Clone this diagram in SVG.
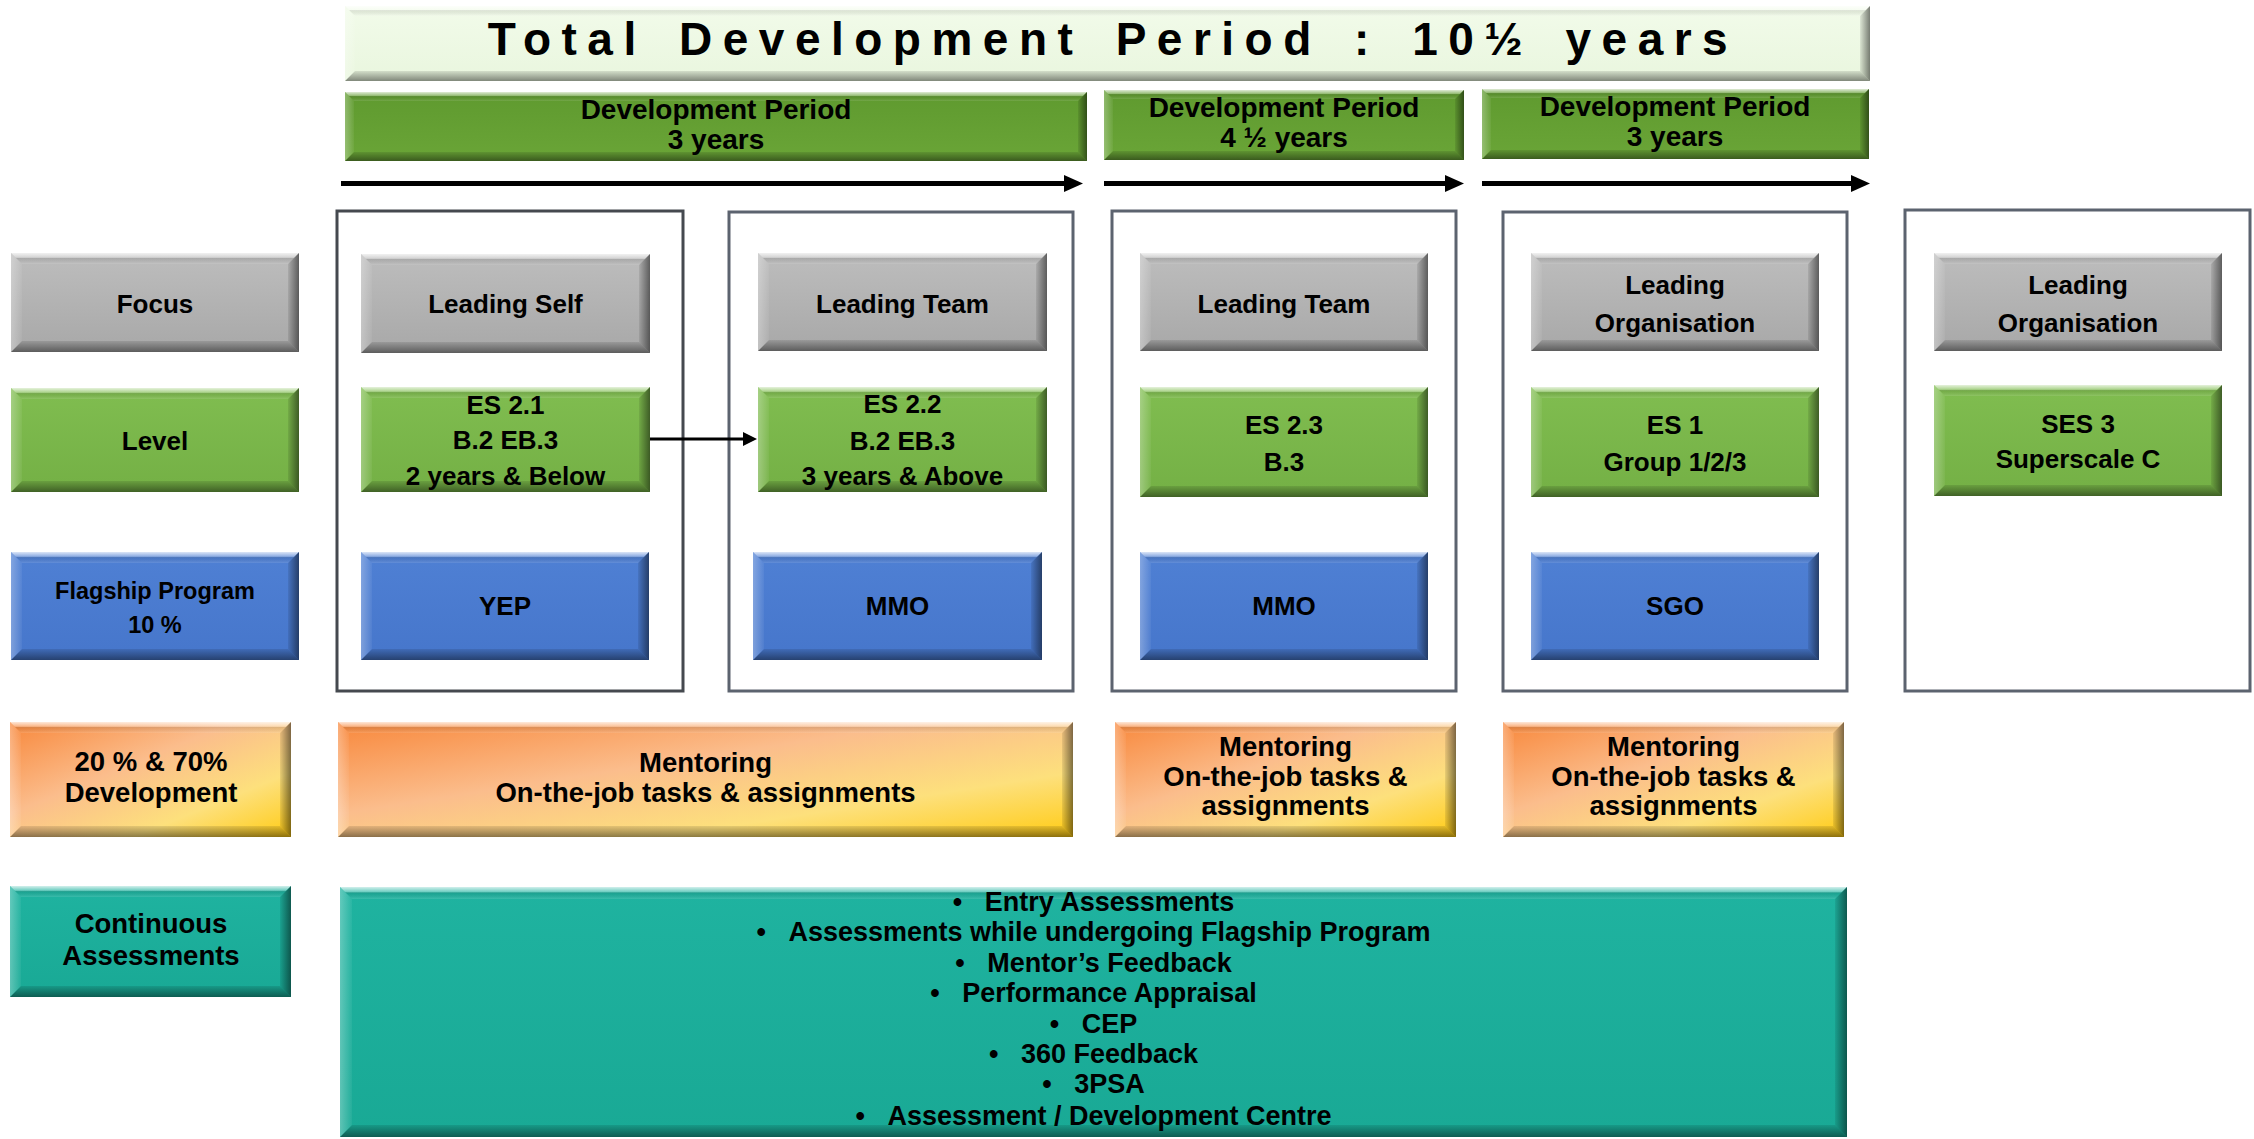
<svg xmlns="http://www.w3.org/2000/svg" width="2254" height="1139" viewBox="0 0 2254 1139">
<style>
.t{font-family:"Liberation Sans",Arial,sans-serif;font-weight:bold;fill:#000;text-anchor:middle}
.s26{font-size:26px}.s24{font-size:23.5px}.s27{font-size:27.5px}.s28{font-size:28px}.s25{font-size:26px}
.frame{fill:#fff;stroke:#5c636f;stroke-width:3}
.gray{fill:url(#gGray)}.green{fill:url(#gGreen)}.blue{fill:url(#gBlue)}.orange{fill:url(#gOrange)}.teal{fill:url(#gTeal)}
.period{fill:url(#gPeriod)}.pale{fill:url(#gPale)}
.bt{fill:url(#bTop)}.bb{fill:url(#bBot)}.bl{fill:url(#bLeft)}.br{fill:url(#bRight)}
.arr{stroke:#000;stroke-width:5;fill:none;marker-end:url(#ah)}
.arr2{stroke:#000;stroke-width:3;fill:none;marker-end:url(#ah2)}
</style>
<defs>
<linearGradient id="gGray" x1="0" y1="0" x2="0" y2="1"><stop offset="0" stop-color="#bdbdbd"/><stop offset="1" stop-color="#a8a8a8"/></linearGradient>
<linearGradient id="gGreen" x1="0" y1="0" x2="0" y2="1"><stop offset="0" stop-color="#80bd50"/><stop offset="1" stop-color="#74b045"/></linearGradient>
<linearGradient id="gBlue" x1="0" y1="0" x2="0" y2="1"><stop offset="0" stop-color="#4f80d4"/><stop offset="1" stop-color="#4676cb"/></linearGradient>
<linearGradient id="gTeal" x1="0" y1="0" x2="0" y2="1"><stop offset="0" stop-color="#1fb3a0"/><stop offset="1" stop-color="#19a995"/></linearGradient>
<linearGradient id="gPeriod" x1="0" y1="0" x2="0" y2="1"><stop offset="0" stop-color="#5f9a2f"/><stop offset="1" stop-color="#6aa537"/></linearGradient>
<linearGradient id="gPale" x1="0" y1="0" x2="0" y2="1"><stop offset="0" stop-color="#f2fbea"/><stop offset="1" stop-color="#e9f6de"/></linearGradient>
<linearGradient id="gOrange" x1="0" y1="0" x2="1" y2="1"><stop offset="0" stop-color="#f8883c"/><stop offset="0.4" stop-color="#fbbd8c"/><stop offset="0.72" stop-color="#fde07c"/><stop offset="1" stop-color="#ffcb14"/></linearGradient>
<linearGradient id="bTop" x1="0" y1="0" x2="0" y2="1"><stop offset="0" stop-color="#fff" stop-opacity="0.8"/><stop offset="0.4" stop-color="#fff" stop-opacity="0.35"/><stop offset="0.55" stop-color="#000" stop-opacity="0.08"/><stop offset="1" stop-color="#fff" stop-opacity="0.12"/></linearGradient>
<linearGradient id="bBot" x1="0" y1="0" x2="0" y2="1"><stop offset="0" stop-color="#000" stop-opacity="0.1"/><stop offset="1" stop-color="#000" stop-opacity="0.45"/></linearGradient>
<linearGradient id="bLeft" x1="0" y1="0" x2="1" y2="0"><stop offset="0" stop-color="#fff" stop-opacity="0.3"/><stop offset="1" stop-color="#fff" stop-opacity="0.05"/></linearGradient>
<linearGradient id="bRight" x1="0" y1="0" x2="1" y2="0"><stop offset="0" stop-color="#000" stop-opacity="0.08"/><stop offset="1" stop-color="#000" stop-opacity="0.5"/></linearGradient>
<marker id="ah" markerUnits="userSpaceOnUse" markerWidth="19" markerHeight="17" refX="1" refY="8.5" orient="auto" viewBox="0 0 19 17"><path d="M0,0 L19,8.5 L0,17z" fill="#000"/></marker>
<marker id="ah2" markerUnits="userSpaceOnUse" markerWidth="14" markerHeight="14" refX="1" refY="7" orient="auto" viewBox="0 0 14 14"><path d="M0,0 L14,7 L0,14z" fill="#000"/></marker>
</defs>
<rect width="2254" height="1139" fill="#fff"/>

<g id="frames">
<rect id="frame1" class="frame" x="337" y="211" width="346" height="480" style="stroke:#45494f"/>
<rect id="frame2" class="frame" x="729" y="212" width="344" height="479"/>
<rect id="frame3" class="frame" x="1112" y="211" width="344" height="480"/>
<rect id="frame4" class="frame" x="1503" y="212" width="344" height="479"/>
<rect id="frame5" class="frame" x="1905" y="210" width="345" height="481"/>
</g>

<g id="title">
<rect class="pale" x="345" y="6" width="1525" height="75"/>
<polygon class="bt" points="345,6 1870,6 1860,16 355,16"/>
<polygon class="bb" points="345,81 1870,81 1860,71 355,71"/>
<polygon class="bl" points="345,6 355,16 355,71 345,81"/>
<polygon class="br" points="1870,6 1860,16 1860,71 1870,81"/>
<text class="t" x="1113" y="55" style="font-size:46px;letter-spacing:10.5px;word-spacing:9px">Total Development Period : 10½ years</text>
</g>

<g id="period1">
<rect class="period" x="345" y="92" width="742" height="69"/>
<polygon class="bt" points="345,92 1087,92 1078,101 354,101"/>
<polygon class="bb" points="345,161 1087,161 1078,152 354,152"/>
<polygon class="bl" points="345,92 354,101 354,152 345,161"/>
<polygon class="br" points="1087,92 1078,101 1078,152 1087,161"/>
<text class="t s28" x="716" y="119">Development Period</text>
<text class="t s28" x="716" y="149">3 years</text>
</g>
<g id="period2">
<rect class="period" x="1104" y="90" width="360" height="70"/>
<polygon class="bt" points="1104,90 1464,90 1455,99 1113,99"/>
<polygon class="bb" points="1104,160 1464,160 1455,151 1113,151"/>
<polygon class="bl" points="1104,90 1113,99 1113,151 1104,160"/>
<polygon class="br" points="1464,90 1455,99 1455,151 1464,160"/>
<text class="t s28" x="1284" y="117">Development Period</text>
<text class="t s28" x="1284" y="147">4 ½ years</text>
</g>
<g id="period3">
<rect class="period" x="1482" y="89" width="387" height="70"/>
<polygon class="bt" points="1482,89 1869,89 1860,98 1491,98"/>
<polygon class="bb" points="1482,159 1869,159 1860,150 1491,150"/>
<polygon class="bl" points="1482,89 1491,98 1491,150 1482,159"/>
<polygon class="br" points="1869,89 1860,98 1860,150 1869,159"/>
<text class="t s28" x="1675" y="116">Development Period</text>
<text class="t s28" x="1675" y="146">3 years</text>
</g>

<g id="focus">
<rect class="gray" x="11" y="253" width="288" height="99"/>
<polygon class="bt" points="11,253 299,253 288,264 22,264"/>
<polygon class="bb" points="11,352 299,352 288,341 22,341"/>
<polygon class="bl" points="11,253 22,264 22,341 11,352"/>
<polygon class="br" points="299,253 288,264 288,341 299,352"/>
<text class="t s26" x="155" y="313">Focus</text>
</g>
<g id="level">
<rect class="green" x="11" y="388" width="288" height="104"/>
<polygon class="bt" points="11,388 299,388 288,399 22,399"/>
<polygon class="bb" points="11,492 299,492 288,481 22,481"/>
<polygon class="bl" points="11,388 22,399 22,481 11,492"/>
<polygon class="br" points="299,388 288,399 288,481 299,492"/>
<text class="t s26" x="155" y="450">Level</text>
</g>
<g id="flagship">
<rect class="blue" x="11" y="552" width="288" height="108"/>
<polygon class="bt" points="11,552 299,552 288,563 22,563"/>
<polygon class="bb" points="11,660 299,660 288,649 22,649"/>
<polygon class="bl" points="11,552 22,563 22,649 11,660"/>
<polygon class="br" points="299,552 288,563 288,649 299,660"/>
<text class="t s24" x="155" y="599">Flagship Program</text>
<text class="t s24" x="155" y="633">10 %</text>
</g>
<g id="development">
<rect class="orange" x="10" y="722" width="281" height="115"/>
<polygon class="bt" points="10,722 291,722 280,733 21,733"/>
<polygon class="bb" points="10,837 291,837 280,826 21,826"/>
<polygon class="bl" points="10,722 21,733 21,826 10,837"/>
<polygon class="br" points="291,722 280,733 280,826 291,837"/>
<text class="t s27" x="151" y="771">20 % &amp; 70%</text>
<text class="t s27" x="151" y="802">Development</text>
</g>
<g id="continuous">
<rect class="teal" x="10" y="886" width="281" height="111"/>
<polygon class="bt" points="10,886 291,886 280,897 21,897"/>
<polygon class="bb" points="10,997 291,997 280,986 21,986"/>
<polygon class="bl" points="10,886 21,897 21,986 10,997"/>
<polygon class="br" points="291,886 280,897 280,986 291,997"/>
<text class="t s27" x="151" y="933">Continuous</text>
<text class="t s27" x="151" y="965">Assessments</text>
</g>

<g id="leading-self">
<rect class="gray" x="361" y="254" width="289" height="99"/>
<polygon class="bt" points="361,254 650,254 639,265 372,265"/>
<polygon class="bb" points="361,353 650,353 639,342 372,342"/>
<polygon class="bl" points="361,254 372,265 372,342 361,353"/>
<polygon class="br" points="650,254 639,265 639,342 650,353"/>
<text class="t s26" x="505.5" y="313">Leading Self</text>
</g>
<g id="es21">
<rect class="green" x="361" y="387" width="289" height="105"/>
<polygon class="bt" points="361,387 650,387 639,398 372,398"/>
<polygon class="bb" points="361,492 650,492 639,481 372,481"/>
<polygon class="bl" points="361,387 372,398 372,481 361,492"/>
<polygon class="br" points="650,387 639,398 639,481 650,492"/>
<text class="t s25" x="505.5" y="414">ES 2.1</text>
<text class="t s25" x="505.5" y="449">B.2 EB.3</text>
<text class="t s25" x="505.5" y="485">2 years &amp; Below</text>
</g>
<g id="yep">
<rect class="blue" x="361" y="552" width="288" height="108"/>
<polygon class="bt" points="361,552 649,552 638,563 372,563"/>
<polygon class="bb" points="361,660 649,660 638,649 372,649"/>
<polygon class="bl" points="361,552 372,563 372,649 361,660"/>
<polygon class="br" points="649,552 638,563 638,649 649,660"/>
<text class="t s25" x="505" y="615">YEP</text>
</g>

<g id="leading-team-1">
<rect class="gray" x="758" y="253" width="289" height="98"/>
<polygon class="bt" points="758,253 1047,253 1036,264 769,264"/>
<polygon class="bb" points="758,351 1047,351 1036,340 769,340"/>
<polygon class="bl" points="758,253 769,264 769,340 758,351"/>
<polygon class="br" points="1047,253 1036,264 1036,340 1047,351"/>
<text class="t s26" x="902.5" y="313">Leading Team</text>
</g>
<g id="es22">
<rect class="green" x="758" y="387" width="289" height="105"/>
<polygon class="bt" points="758,387 1047,387 1036,398 769,398"/>
<polygon class="bb" points="758,492 1047,492 1036,481 769,481"/>
<polygon class="bl" points="758,387 769,398 769,481 758,492"/>
<polygon class="br" points="1047,387 1036,398 1036,481 1047,492"/>
<text class="t s25" x="902.5" y="413">ES 2.2</text>
<text class="t s25" x="902.5" y="450">B.2 EB.3</text>
<text class="t s25" x="902.5" y="485">3 years &amp; Above</text>
</g>
<g id="mmo-1">
<rect class="blue" x="753" y="552" width="289" height="108"/>
<polygon class="bt" points="753,552 1042,552 1031,563 764,563"/>
<polygon class="bb" points="753,660 1042,660 1031,649 764,649"/>
<polygon class="bl" points="753,552 764,563 764,649 753,660"/>
<polygon class="br" points="1042,552 1031,563 1031,649 1042,660"/>
<text class="t s25" x="897.5" y="615">MMO</text>
</g>

<g id="leading-team-2">
<rect class="gray" x="1140" y="253" width="288" height="98"/>
<polygon class="bt" points="1140,253 1428,253 1417,264 1151,264"/>
<polygon class="bb" points="1140,351 1428,351 1417,340 1151,340"/>
<polygon class="bl" points="1140,253 1151,264 1151,340 1140,351"/>
<polygon class="br" points="1428,253 1417,264 1417,340 1428,351"/>
<text class="t s26" x="1284" y="313">Leading Team</text>
</g>
<g id="es23">
<rect class="green" x="1140" y="387" width="288" height="110"/>
<polygon class="bt" points="1140,387 1428,387 1417,398 1151,398"/>
<polygon class="bb" points="1140,497 1428,497 1417,486 1151,486"/>
<polygon class="bl" points="1140,387 1151,398 1151,486 1140,497"/>
<polygon class="br" points="1428,387 1417,398 1417,486 1428,497"/>
<text class="t s25" x="1284" y="434">ES 2.3</text>
<text class="t s25" x="1284" y="471">B.3</text>
</g>
<g id="mmo-2">
<rect class="blue" x="1140" y="552" width="288" height="108"/>
<polygon class="bt" points="1140,552 1428,552 1417,563 1151,563"/>
<polygon class="bb" points="1140,660 1428,660 1417,649 1151,649"/>
<polygon class="bl" points="1140,552 1151,563 1151,649 1140,660"/>
<polygon class="br" points="1428,552 1417,563 1417,649 1428,660"/>
<text class="t s25" x="1284" y="615">MMO</text>
</g>

<g id="leading-org-1">
<rect class="gray" x="1531" y="253" width="288" height="98"/>
<polygon class="bt" points="1531,253 1819,253 1808,264 1542,264"/>
<polygon class="bb" points="1531,351 1819,351 1808,340 1542,340"/>
<polygon class="bl" points="1531,253 1542,264 1542,340 1531,351"/>
<polygon class="br" points="1819,253 1808,264 1808,340 1819,351"/>
<text class="t s26" x="1675" y="294">Leading</text>
<text class="t s26" x="1675" y="332">Organisation</text>
</g>
<g id="es1">
<rect class="green" x="1531" y="387" width="288" height="110"/>
<polygon class="bt" points="1531,387 1819,387 1808,398 1542,398"/>
<polygon class="bb" points="1531,497 1819,497 1808,486 1542,486"/>
<polygon class="bl" points="1531,387 1542,398 1542,486 1531,497"/>
<polygon class="br" points="1819,387 1808,398 1808,486 1819,497"/>
<text class="t s25" x="1675" y="434">ES 1</text>
<text class="t s25" x="1675" y="471">Group 1/2/3</text>
</g>
<g id="sgo">
<rect class="blue" x="1531" y="552" width="288" height="108"/>
<polygon class="bt" points="1531,552 1819,552 1808,563 1542,563"/>
<polygon class="bb" points="1531,660 1819,660 1808,649 1542,649"/>
<polygon class="bl" points="1531,552 1542,563 1542,649 1531,660"/>
<polygon class="br" points="1819,552 1808,563 1808,649 1819,660"/>
<text class="t s25" x="1675" y="615">SGO</text>
</g>

<g id="leading-org-2">
<rect class="gray" x="1934" y="253" width="288" height="98"/>
<polygon class="bt" points="1934,253 2222,253 2211,264 1945,264"/>
<polygon class="bb" points="1934,351 2222,351 2211,340 1945,340"/>
<polygon class="bl" points="1934,253 1945,264 1945,340 1934,351"/>
<polygon class="br" points="2222,253 2211,264 2211,340 2222,351"/>
<text class="t s26" x="2078" y="294">Leading</text>
<text class="t s26" x="2078" y="332">Organisation</text>
</g>
<g id="ses3">
<rect class="green" x="1934" y="385" width="288" height="111"/>
<polygon class="bt" points="1934,385 2222,385 2211,396 1945,396"/>
<polygon class="bb" points="1934,496 2222,496 2211,485 1945,485"/>
<polygon class="bl" points="1934,385 1945,396 1945,485 1934,496"/>
<polygon class="br" points="2222,385 2211,396 2211,485 2222,496"/>
<text class="t s25" x="2078" y="433">SES 3</text>
<text class="t s25" x="2078" y="468">Superscale C</text>
</g>

<g id="mentoring-1">
<rect class="orange" x="338" y="722" width="735" height="115"/>
<polygon class="bt" points="338,722 1073,722 1062,733 349,733"/>
<polygon class="bb" points="338,837 1073,837 1062,826 349,826"/>
<polygon class="bl" points="338,722 349,733 349,826 338,837"/>
<polygon class="br" points="1073,722 1062,733 1062,826 1073,837"/>
<text class="t s27" x="705.5" y="772">Mentoring</text>
<text class="t s27" x="705.5" y="802">On-the-job tasks &amp; assignments</text>
</g>
<g id="mentoring-2">
<rect class="orange" x="1115" y="722" width="341" height="115"/>
<polygon class="bt" points="1115,722 1456,722 1445,733 1126,733"/>
<polygon class="bb" points="1115,837 1456,837 1445,826 1126,826"/>
<polygon class="bl" points="1115,722 1126,733 1126,826 1115,837"/>
<polygon class="br" points="1456,722 1445,733 1445,826 1456,837"/>
<text class="t s27" x="1285.5" y="756">Mentoring</text>
<text class="t s27" x="1285.5" y="786">On-the-job tasks &amp;</text>
<text class="t s27" x="1285.5" y="815">assignments</text>
</g>
<g id="mentoring-3">
<rect class="orange" x="1503" y="722" width="341" height="115"/>
<polygon class="bt" points="1503,722 1844,722 1833,733 1514,733"/>
<polygon class="bb" points="1503,837 1844,837 1833,826 1514,826"/>
<polygon class="bl" points="1503,722 1514,733 1514,826 1503,837"/>
<polygon class="br" points="1844,722 1833,733 1833,826 1844,837"/>
<text class="t s27" x="1673.5" y="756">Mentoring</text>
<text class="t s27" x="1673.5" y="786">On-the-job tasks &amp;</text>
<text class="t s27" x="1673.5" y="815">assignments</text>
</g>

<g id="assessments">
<rect class="teal" x="340" y="887" width="1507" height="250"/>
<polygon class="bt" points="340,887 1847,887 1835,899 352,899"/>
<polygon class="bb" points="340,1137 1847,1137 1835,1125 352,1125"/>
<polygon class="bl" points="340,887 352,899 352,1125 340,1137"/>
<polygon class="br" points="1847,887 1835,899 1835,1125 1847,1137"/>
<text class="t" style="font-size:27px" x="1093.5" y="911">•&#160;&#160;&#160;Entry Assessments</text>
<text class="t" style="font-size:27px" x="1093.5" y="941">•&#160;&#160;&#160;Assessments while undergoing Flagship Program</text>
<text class="t" style="font-size:27px" x="1093.5" y="972">•&#160;&#160;&#160;Mentor’s Feedback</text>
<text class="t" style="font-size:27px" x="1093.5" y="1002">•&#160;&#160;&#160;Performance Appraisal</text>
<text class="t" style="font-size:27px" x="1093.5" y="1033">•&#160;&#160;&#160;CEP</text>
<text class="t" style="font-size:27px" x="1093.5" y="1063">•&#160;&#160;&#160;360 Feedback</text>
<text class="t" style="font-size:27px" x="1093.5" y="1093">•&#160;&#160;&#160;3PSA</text>
<text class="t" style="font-size:27px" x="1093.5" y="1125">•&#160;&#160;&#160;Assessment / Development Centre</text>
</g>

<g id="connectors">
<line class="arr" x1="341" y1="183.5" x2="1065" y2="183.5"/>
<line class="arr" x1="1104" y1="183.5" x2="1446" y2="183.5"/>
<line class="arr" x1="1482" y1="183.5" x2="1852" y2="183.5"/>
<line class="arr2" x1="650" y1="439" x2="744" y2="439"/>
</g>
</svg>
